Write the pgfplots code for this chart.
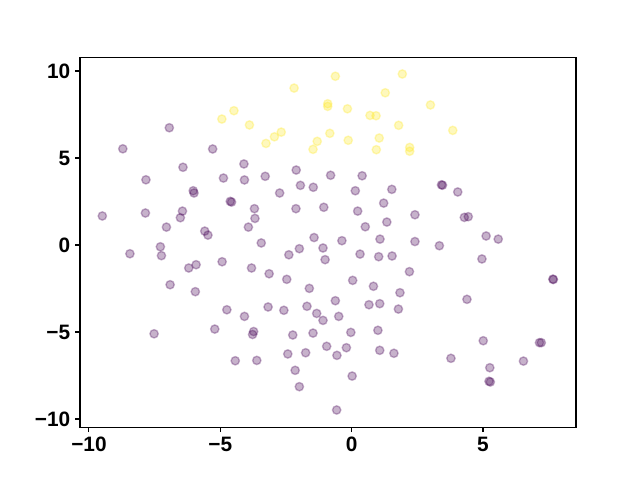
\documentclass[border=0pt]{standalone}
\usepackage{fontspec}
\setmainfont{Liberation Sans}
\usepackage{pgfplots}
\pgfplotsset{compat=1.18}
\definecolor{vpurple}{HTML}{440154}
\definecolor{vyellow}{HTML}{FDE725}
\begin{document}
\begin{tikzpicture}
\begin{axis}[
  scale only axis,
  width=357.1pt, height=266.1pt,
  xmin=-10.34, xmax=8.54, ymin=-10.47, ymax=10.77,
  axis line style={line width=0.8pt},
  tick align=outside, major tick length=3.5pt,
  every tick/.style={black, line width=0.8pt},
  xtick pos=left, ytick pos=left,
  xtick={-10,-5,0,5}, xticklabels={−10,−5,0,5},
  ytick={-10,-5,0,5,10}, yticklabels={−10,−5,0,5,10},
  ticklabel style={font=\fontsize{15}{17}\selectfont\bfseries},
  clip=false,
]
\addplot[only marks, mark=*, mark size=3pt,
  mark options={fill=vpurple, draw=vpurple, fill opacity=0.3, draw opacity=0.3, line width=1pt}]
coordinates {
(-6.94,6.74) (-8.71,5.53) (-5.29,5.52) (-6.42,4.47) (-4.10,4.66) (-7.83,3.75)
(-4.88,3.85) (-4.08,3.74) (-6.03,3.12) (-6.00,2.99) (-4.62,2.51) (-4.57,2.47)
(-9.49,1.67) (-7.85,1.84) (-6.44,1.95) (-6.52,1.57) (-7.05,1.03) (-5.59,0.80)
(-5.47,0.57) (-3.93,1.03) (-3.29,3.95) (-2.11,4.31) (-0.80,4.01) (0.40,3.98)
(-1.95,3.43) (-1.46,3.32) (-2.74,2.99) (0.14,3.12) (1.53,3.20) (1.22,2.41)
(-3.70,2.09) (-2.12,2.09) (-1.06,2.17) (0.23,1.95) (-3.68,1.53) (1.34,1.32)
(0.52,1.05) (2.41,1.74) (-3.44,0.12) (-1.43,0.43) (-0.37,0.25) (1.08,0.34)
(2.41,0.20) (3.42,3.46) (3.46,3.44) (4.04,3.05) (4.29,1.59) (4.44,1.63)
(5.12,0.52) (5.58,0.34) (3.34,-0.04) (-8.44,-0.50) (-7.28,-0.10) (-7.24,-0.61)
(-6.20,-1.32) (-5.92,-1.13) (-4.93,-0.96) (-3.81,-1.32) (-6.91,-2.28) (-5.95,-2.68)
(-4.75,-3.72) (-4.08,-4.10) (-7.52,-5.10) (-5.21,-4.83) (-3.73,-4.97) (-3.77,-5.14)
(-4.43,-6.65) (-2.39,-0.56) (-1.99,-0.21) (-1.09,-0.17) (-1.01,-0.84) (0.32,-0.52)
(1.03,-0.67) (1.54,-0.63) (-3.14,-1.65) (-2.47,-1.97) (-1.61,-2.49) (0.04,-2.03)
(0.83,-2.37) (2.20,-1.53) (1.84,-2.74) (-3.18,-3.56) (-2.58,-3.75) (-1.70,-3.52)
(-1.33,-3.93) (-1.09,-4.33) (-0.62,-3.20) (-0.49,-4.10) (0.66,-3.43) (1.07,-3.37)
(1.78,-3.68) (-2.24,-5.17) (-1.47,-5.06) (-0.03,-5.02) (1.00,-4.90) (-3.61,-6.63)
(-2.43,-6.26) (-1.75,-6.19) (-0.95,-5.82) (-0.20,-5.90) (-0.56,-6.34) (1.07,-6.05)
(1.61,-6.22) (-2.15,-7.20) (-1.99,-8.14) (0.02,-7.53) (-0.57,-9.48) (4.96,-0.80)
(7.66,-1.96) (7.68,-1.98) (4.39,-3.12) (5.01,-5.50) (7.15,-5.61) (7.22,-5.61)
(3.78,-6.51) (6.54,-6.67) (5.26,-7.05) (5.23,-7.83) (5.28,-7.87)
};
\addplot[only marks, mark=*, mark size=3pt,
  mark options={fill=vyellow, draw=vyellow, fill opacity=0.3, draw opacity=0.3, line width=1pt}]
coordinates {
(-4.94,7.24) (-4.48,7.72) (-3.89,6.90) (-2.19,9.02) (-0.62,9.70) (1.93,9.83)
(1.28,8.75) (-0.91,8.12) (-0.91,7.97) (-0.16,7.83) (0.70,7.45) (0.93,7.43)
(1.79,6.88) (-2.94,6.22) (-2.68,6.49) (-3.26,5.84) (-0.83,6.42) (-1.31,5.96)
(-0.13,6.02) (1.05,6.15) (-1.47,5.50) (0.94,5.48) (2.21,5.61) (2.21,5.39)
(3.00,8.05) (3.85,6.59)
};
\coordinate (ll) at (rel axis cs:0,0);
\coordinate (ur) at (rel axis cs:1,1);
\end{axis}
\path ([shift={(-57.6pt,-38.0pt)}]ll) rectangle ([shift={(46.1pt,41.5pt)}]ur);
\end{tikzpicture}
\end{document}
